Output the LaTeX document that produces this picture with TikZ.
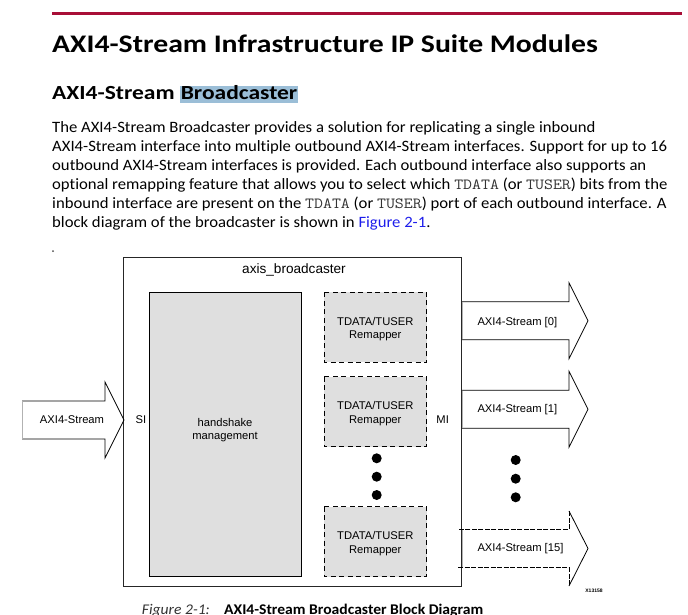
\documentclass[tikz,border=0pt]{standalone}
\usepackage{fontspec}
\usepackage{xcolor}
\setmainfont[FakeStretch=1.056,Ligatures=NoCommon]{Carlito}
\newfontfamily\headfont[FakeStretch=1.175,Ligatures=NoCommon]{Carlito}
\newfontfamily\arialfont{Liberation Sans}
\newfontfamily\courfont[FakeStretch=1.12]{Latin Modern Mono}
\definecolor{xred}{RGB}{168,14,55}
\definecolor{hilite}{RGB}{155,190,215}
\definecolor{boxgray}{RGB}{223,223,223}
\definecolor{linkblue}{RGB}{30,30,235}
\newcommand{\tmono}[1]{{\courfont\fontsize{15.5bp}{19bp}\selectfont\color{black!80}#1}}

\begin{document}
\begin{tikzpicture}[x=1bp,y=-1bp,
  para/.style={anchor=base west,inner sep=0pt,font=\fontsize{15.8bp}{19bp}\selectfont},
  lbl/.style={font=\arialfont\fontsize{11.2bp}{13.5bp}\selectfont,align=center,inner sep=0pt},
  remap/.style={dashed,dash pattern=on 5bp off 3.5bp,fill=boxgray,line width=0.8bp},
  dot/.style={fill=black}]
\useasboundingbox (0,0) rectangle (688,615);
\clip (0,0) rectangle (688,615);

\fill[xred] (52,12) rectangle (682,15);
\node[anchor=base west,inner sep=0pt,font=\headfont\bfseries\fontsize{25.3bp}{30bp}\selectfont] (title) at (52,53) {AXI4-Stream Infrastructure IP Suite Modules};
\node[anchor=base west,inner sep=0pt,font=\headfont\bfseries\fontsize{20bp}{24bp}\selectfont] (subtitle) at (52,100) {AXI4-Stream};
\node[anchor=base east,inner xsep=0.5bp,inner ysep=0pt,text height=14bp,text depth=3bp,fill=hilite,
  font=\headfont\bfseries\fontsize{20bp}{24bp}\selectfont] (hiword) at (298,100) {Broadcaster};

\node[para] (line1) at (52,132.7) {The AXI4-Stream Broadcaster provides a solution for replicating a single inbound};
\node[para] (line2) at (52,151.7) {AXI4-Stream interface into multiple outbound AXI4-Stream interfaces. Support for up to 16};
\node[para] (line3) at (52,170.7) {outbound AXI4-Stream interfaces is provided. Each outbound interface also supports an};
\node[para] (line4) at (52,189.7) {optional remapping feature that allows you to select which \tmono{TDATA} (or \tmono{TUSER}) bits from the};
\node[para] (line5) at (52,208.7) {inbound interface are present on the \tmono{TDATA} (or \tmono{TUSER}) port of each outbound interface. A};
\node[para] (line6) at (52,227.7) {block diagram of the broadcaster is shown in \textcolor{linkblue}{Figure 2-1}.};
\fill[black!70] (53,251) circle (1);

\draw[line width=0.9bp,black!85] (123.5,257) rectangle (461.7,586.7);
\node[anchor=base,inner sep=0pt,font=\arialfont\fontsize{13.6bp}{16bp}\selectfont] (bname) at (294,273) {axis\_broadcaster};

\draw[fill=boxgray,line width=0.8bp] (149,292.3) rectangle (301.7,576.7);
\node[lbl] (hs) at (225,430) {handshake\\management};

\draw[remap] (324,292.3) rectangle (426.5,362.3);
\draw[remap] (324,376.7) rectangle (426.5,446.7);
\draw[remap] (324,506.7) rectangle (426.5,576.7);
\node[lbl] (rm0) at (375.3,329) {TDATA/TUSER\\Remapper};
\node[lbl] (rm1) at (375.3,413.4) {TDATA/TUSER\\Remapper};
\node[lbl] (rm15) at (375.3,543.4) {TDATA/TUSER\\Remapper};
\foreach \y in {458.3,476.7,495} \fill[dot] (376.7,\y) circle (5);

\node[lbl] (si) at (141,420) {SI};
\node[lbl] (mi) at (442.7,420) {MI};

\draw[line width=0.8bp] (22,401) -- (105,401) -- (105,382) -- (124,420) -- (105,458) -- (105,439) -- (22,439);
\draw[black!30,line width=0.8bp] (22,401) -- (22,439);
\node[lbl] (sin) at (72,420) {AXI4-Stream};

\foreach \c in {320.7,409.2} {
  \draw[line width=0.8bp] (462,\c-19) -- (569,\c-19) -- (569,\c-38) -- (588,\c) -- (569,\c+38) -- (569,\c+19) -- (462,\c+19);
  \draw[black!30,line width=0.8bp] (462.5,\c-18.5) -- (462.5,\c+18.5);
}
\draw[dashed,dash pattern=on 5bp off 1.5bp,line width=0.8bp] (569,511) -- (569,529.3) -- (458,529.3);
\draw[dashed,dash pattern=on 5bp off 1.5bp,line width=0.8bp] (458,567.7) -- (569,567.7) -- (569,586);
\draw[line width=0.8bp] (569,511) -- (588,548.5) -- (569,586);
\draw[black!30,line width=0.8bp] (462.5,530) -- (462.5,567);
\node[lbl,anchor=west] (m0) at (477.3,322.5) {AXI4-Stream [0]};
\node[lbl,anchor=west] (m1) at (477.3,410) {AXI4-Stream [1]};
\node[lbl,anchor=west] (m15) at (477.3,549) {AXI4-Stream [15]};
\foreach \y in {460,478.7,497.3} \fill[dot] (515.7,\y) circle (5);

\node[inner sep=0pt,font=\arialfont\bfseries\fontsize{5bp}{6bp}\selectfont] (xid) at (594,591) {X13158};

\node[anchor=base west,inner sep=0pt,font=\itshape\fontsize{14.8bp}{16bp}\selectfont,text=black!80] (fignum) at (141.7,614) {Figure 2-1:};
\node[anchor=base west,inner sep=0pt,font=\bfseries\fontsize{14.8bp}{16bp}\selectfont] (figcap) at (224,614) {AXI4-Stream Broadcaster Block Diagram};
\end{tikzpicture}
\end{document}
